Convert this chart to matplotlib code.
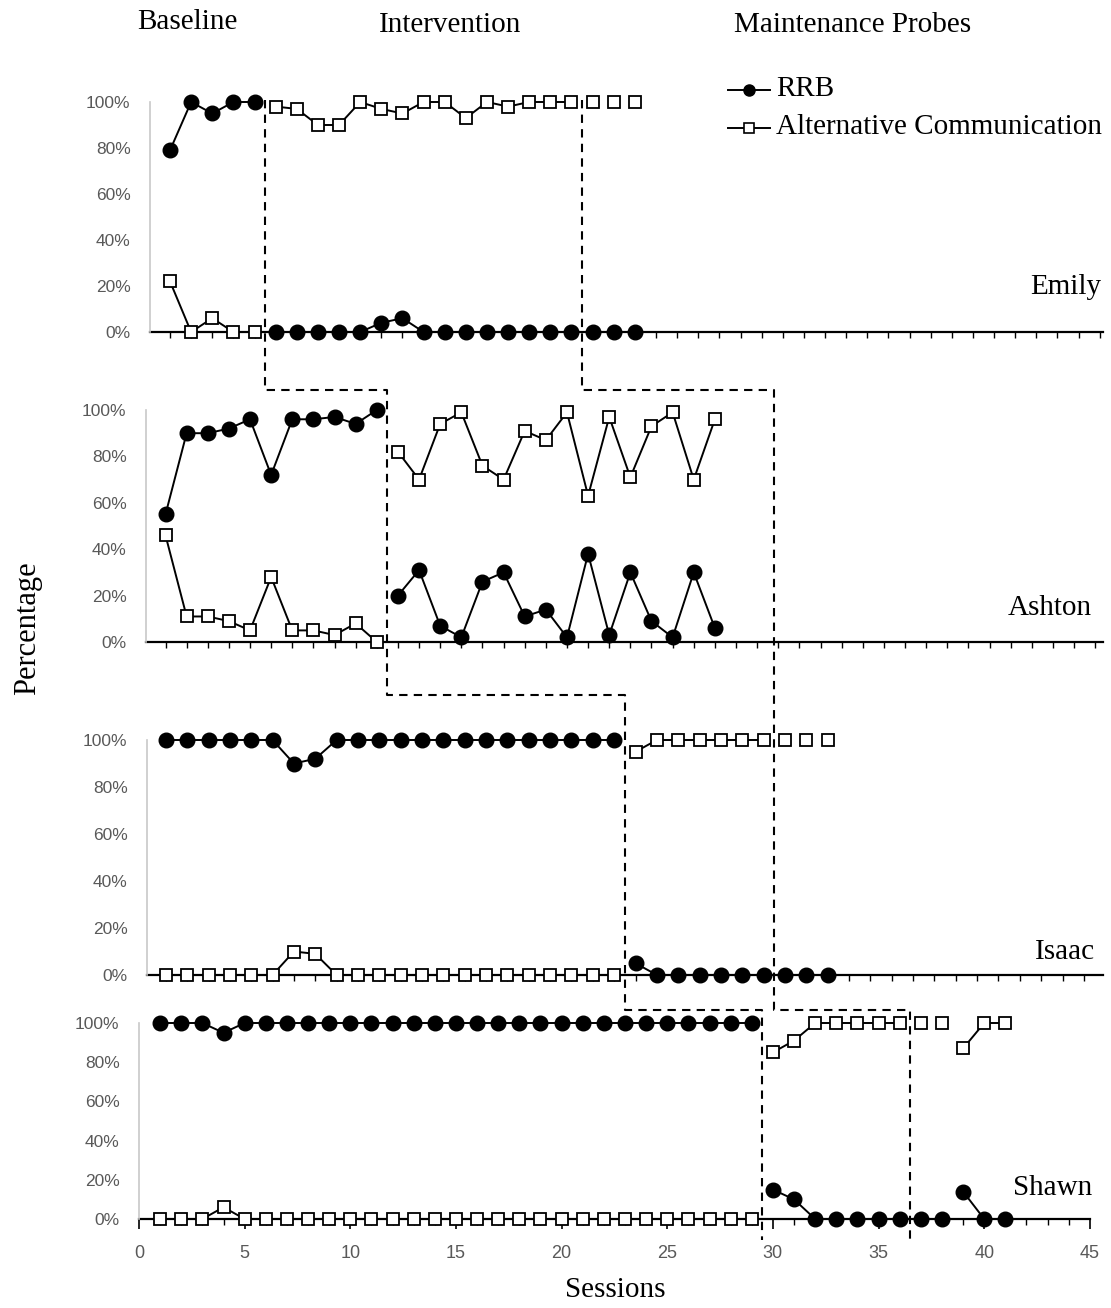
import matplotlib
matplotlib.use('Agg')
import matplotlib.pyplot as plt
from matplotlib.lines import Line2D

# ---- data (percent per session) ----
emily_rrb = [79, 100, 95, 100, 100,
             0, 0, 0, 0, 0, 4, 6, 0, 0, 0, 0, 0, 0, 0, 0,
             0, 0, 0]
emily_alt = [22, 0, 6, 0, 0,
             98, 97, 90, 90, 100, 97, 95, 100, 100, 93, 100, 98, 100, 100, 100,
             100, 100, 100]
emily_runs = [(1, 5), (6, 20), (21, 21), (22, 22), (23, 23)]
emily_phases = [5.5, 20.5]

ashton_rrb = [55, 90, 90, 92, 96, 72, 96, 96, 97, 94, 100,
              20, 31, 7, 2, 26, 30, 11, 14, 2, 38, 3, 30, 9, 2, 30, 6]
ashton_alt = [46, 11, 11, 9, 5, 28, 5, 5, 3, 8, 0,
              82, 70, 94, 99, 76, 70, 91, 87, 99, 63, 97, 71, 93, 99, 70, 96]
ashton_runs = [(1, 11), (12, 27)]
ashton_phases = [11.5]

isaac_rrb = [100, 100, 100, 100, 100, 100, 90, 92, 100, 100, 100, 100, 100, 100,
             100, 100, 100, 100, 100, 100, 100, 100,
             5, 0, 0, 0, 0, 0, 0,
             0, 0, 0]
isaac_alt = [0, 0, 0, 0, 0, 0, 10, 9, 0, 0, 0, 0, 0, 0,
             0, 0, 0, 0, 0, 0, 0, 0,
             95, 100, 100, 100, 100, 100, 100,
             100, 100, 100]
isaac_runs = [(1, 22), (23, 29), (30, 30), (31, 31), (32, 32)]
isaac_phases = [22.5, 29.5]

shawn_rrb = [100, 100, 100, 95, 100, 100, 100, 100, 100, 100, 100, 100, 100, 100, 100,
             100, 100, 100, 100, 100, 100, 100, 100, 100, 100, 100, 100, 100, 100,
             15, 10, 0, 0, 0, 0, 0,
             0, 0, 14, 0, 0]
shawn_alt = [0, 0, 0, 6, 0, 0, 0, 0, 0, 0, 0, 0, 0, 0, 0,
             0, 0, 0, 0, 0, 0, 0, 0, 0, 0, 0, 0, 0, 0,
             85, 91, 100, 100, 100, 100, 100,
             100, 100, 87, 100, 100]
shawn_runs = [(1, 29), (30, 36), (37, 37), (38, 38), (39, 41)]
shawn_phases = [29.5, 36.5]

names = ['Emily', 'Ashton', 'Isaac', 'Shawn']
y_ticks = [0, 20, 40, 60, 80, 100]
y_ticklabels = ['0%', '20%', '40%', '60%', '80%', '100%']
x_ticks = [0, 5, 10, 15, 20, 25, 30, 35, 40, 45]

# ---- layout in pixels (figure is 1111 x 1308) ----
W, H = 1111, 1308
# left, right, top(100%), bottom(0%), px of session 1, px per session
boxes = [
    (150, 1103, 102, 332, 170.0, 21.13),
    (146, 1103, 410, 642, 165.5, 21.13),
    (147, 1103, 740, 975, 165.8, 21.35),
    (139, 1090, 1023, 1219, 160.13, 21.13),
]
name_pos = [(1101, 287), (1092, 608), (1095, 952), (1092, 1188)]

serif = 'Liberation Serif'
sans = 'Liberation Sans'
gray = '#595959'

fig = plt.figure(figsize=(W / 100, H / 100), dpi=100)

panels = [
    (emily_rrb, emily_alt, emily_runs, emily_phases),
    (ashton_rrb, ashton_alt, ashton_runs, ashton_phases),
    (isaac_rrb, isaac_alt, isaac_runs, isaac_phases),
    (shawn_rrb, shawn_alt, shawn_runs, shawn_phases),
]

axes = []
for i, (rrb, alt, runs, phases) in enumerate(panels):
    L, R, T, B, p1, step = boxes[i]
    ax = fig.add_axes([L / W, 1 - B / H, (R - L) / W, (B - T) / H])
    ax.set_xlim(1 + (L - p1) / step, 1 + (R - p1) / step)
    ax.set_ylim(0, 100)
    sessions = list(range(1, len(rrb) + 1))

    for a, b in runs:
        ax.plot(sessions[a - 1:b], alt[a - 1:b], color='k', lw=1.4,
                marker='s', ms=9, mfc='white', mec='k', mew=1.3,
                clip_on=False, zorder=3)
        ax.plot(sessions[a - 1:b], rrb[a - 1:b], color='k', lw=1.4,
                marker='o', ms=10.5, mfc='k', mec='k',
                clip_on=False, zorder=4)

    for s in ['top', 'right']:
        ax.spines[s].set_visible(False)
    ax.spines['left'].set_color('#c8c8c8')
    ax.spines['left'].set_linewidth(1.2)
    ax.spines['bottom'].set_color('k')
    ax.spines['bottom'].set_linewidth(1.6)
    ax.spines['bottom'].set_zorder(2)

    ax.set_yticks(y_ticks)
    ax.set_yticklabels(y_ticklabels, family=sans, fontsize=12.5, color=gray)
    ax.tick_params(axis='y', length=0, pad=14)

    if i < 3:
        lo, hi = ax.get_xlim()
        ax.set_xticks(list(range(int(lo) + 1, int(hi) + 1)))
        ax.set_xticklabels([])
        ax.tick_params(axis='x', direction='out', length=4, width=1, color='k')
    else:
        ax.set_xticks(x_ticks)
        ax.set_xticklabels([str(t) for t in x_ticks], family=sans,
                           fontsize=13, color=gray)
        ax.set_xticks(list(range(0, 46)), minor=True)
        ax.tick_params(axis='x', which='major', direction='out', length=7,
                       width=1.2, pad=12)
        ax.tick_params(axis='x', which='minor', direction='out', length=4,
                       width=1)

    fig.text(name_pos[i][0] / W, 1 - name_pos[i][1] / H, names[i],
             ha='right', va='center', family=serif, fontsize=21)
    axes.append(ax)


# ---- staggered phase-change lines (multiple-baseline staircase) ----
def phase_px(ax, x):
    return ax.transData.transform((x, 0))[0]


gap_y = [390, 695, 1010]
top_y, bottom_y = 100, 1240

e, a, i_, s = axes
xs1 = [phase_px(e, emily_phases[0]), phase_px(a, ashton_phases[0]),
       phase_px(i_, isaac_phases[0]), phase_px(s, shawn_phases[0])]
line1_x = [xs1[0], xs1[0], xs1[1], xs1[1], xs1[2], xs1[2], xs1[3], xs1[3]]
line1_y = [top_y, gap_y[0], gap_y[0], gap_y[1], gap_y[1], gap_y[2], gap_y[2], bottom_y]

xs2 = [phase_px(e, emily_phases[1]), phase_px(i_, isaac_phases[1]),
       phase_px(s, shawn_phases[1])]
line2_x = [xs2[0], xs2[0], xs2[1], xs2[1], xs2[2], xs2[2]]
line2_y = [top_y, gap_y[0], gap_y[0], gap_y[2], gap_y[2], bottom_y]

for lx, ly in [(line1_x, line1_y), (line2_x, line2_y)]:
    fig.add_artist(Line2D([x / W for x in lx], [1 - y / H for y in ly],
                          transform=fig.transFigure, color='k', lw=1.5,
                          linestyle=(0, (4, 3)), zorder=5))

# ---- phase headings ----
fig.text(187 / W, 1 - 22 / H, 'Baseline', ha='center', va='center',
         family=serif, fontsize=21)
fig.text(450 / W, 1 - 25 / H, 'Intervention', ha='center', va='center',
         family=serif, fontsize=21)
fig.text(853 / W, 1 - 25 / H, 'Maintenance Probes', ha='center', va='center',
         family=serif, fontsize=21)

# ---- legend (drawn by hand to sit like the original) ----
fig.add_artist(Line2D([728 / W, 770 / W], [1 - 90 / H, 1 - 90 / H],
                      transform=fig.transFigure, color='k', lw=1.4))
fig.add_artist(Line2D([749 / W], [1 - 90 / H], transform=fig.transFigure,
                      color='k', marker='o', ms=8, mfc='k'))
fig.add_artist(Line2D([728 / W, 770 / W], [1 - 128 / H, 1 - 128 / H],
                      transform=fig.transFigure, color='k', lw=1.4))
fig.add_artist(Line2D([749 / W], [1 - 128 / H], transform=fig.transFigure,
                      color='k', marker='s', ms=7, mfc='white', mew=1.2))
fig.text(776 / W, 1 - 89 / H, 'RRB', ha='left', va='center',
         family=serif, fontsize=21)
fig.text(776 / W, 1 - 127 / H, 'Alternative Communication', ha='left',
         va='center', family=serif, fontsize=21)

# ---- axis titles ----
fig.text(28 / W, 1 - 628 / H, 'Percentage', rotation=90, ha='center',
         va='center', family=serif, fontsize=22)
fig.text(615 / W, 1 - 1290 / H, 'Sessions', ha='center', va='center',
         family=serif, fontsize=21)

fig.savefig('out.png', dpi=100)
